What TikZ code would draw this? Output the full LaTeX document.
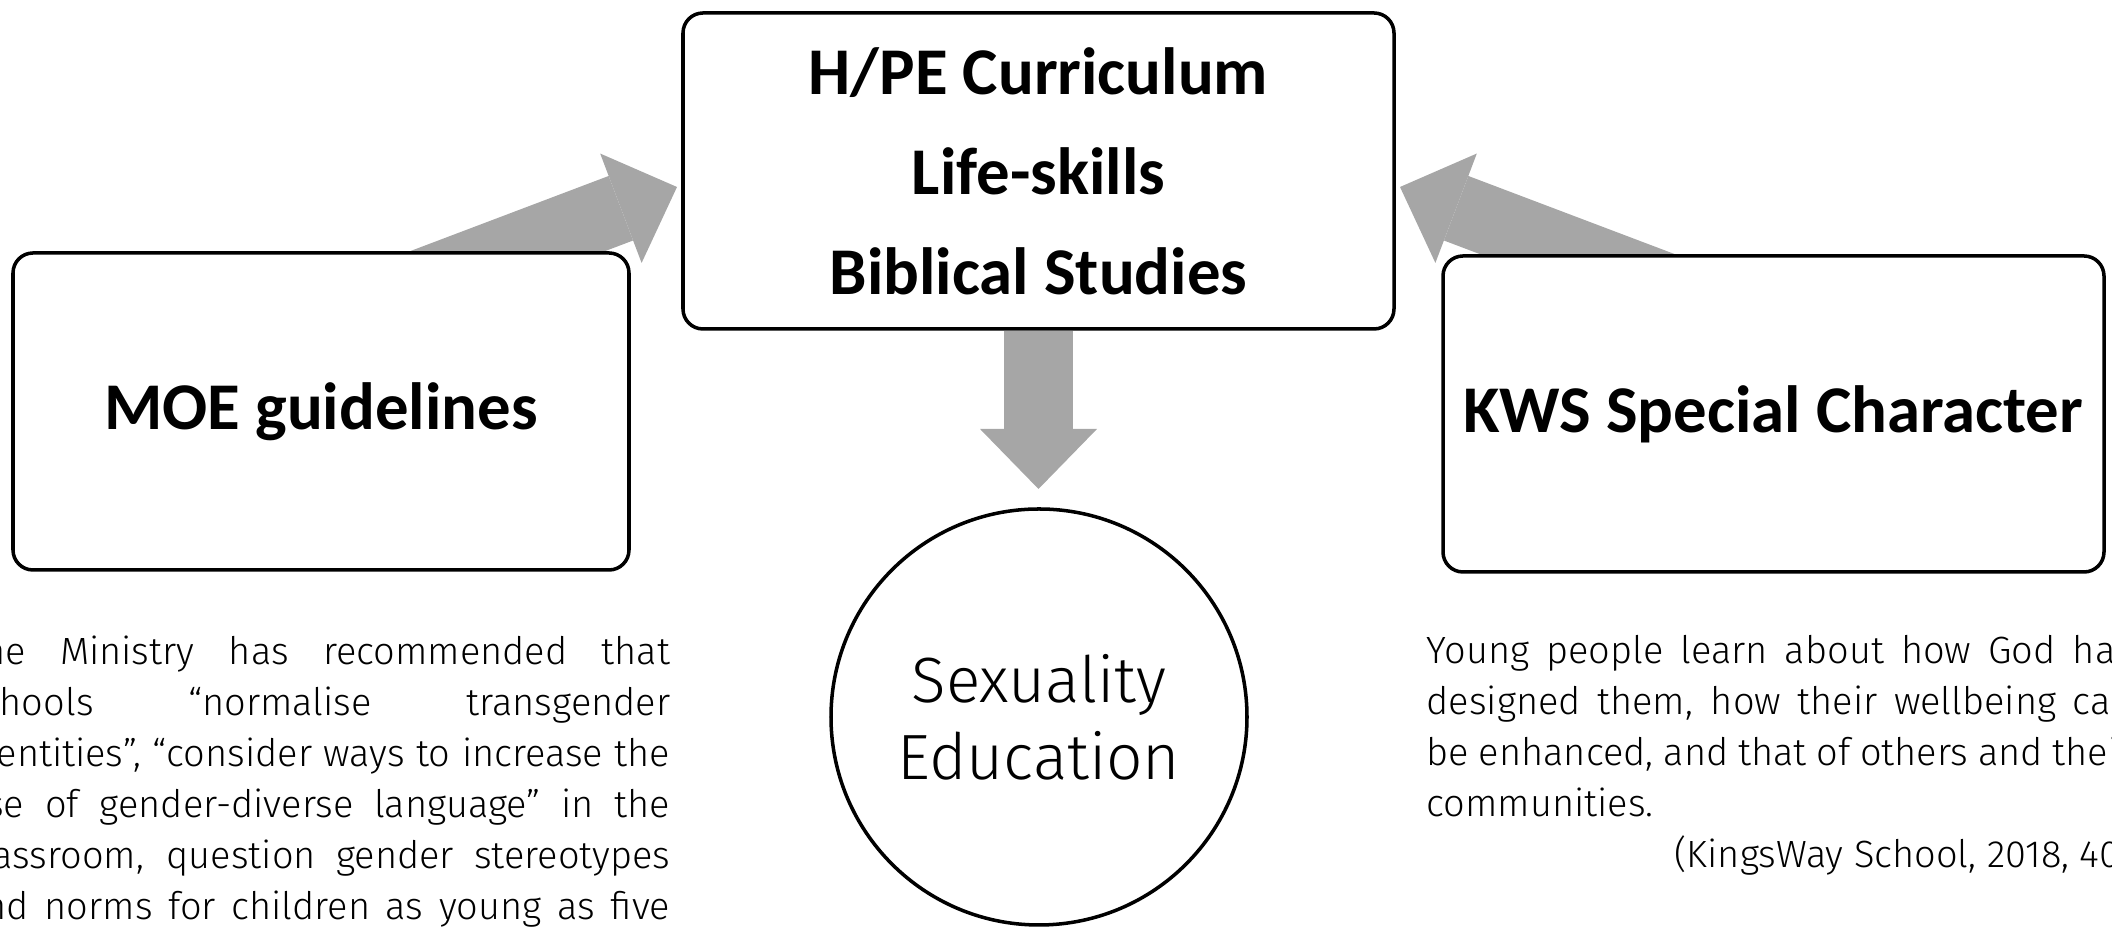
\documentclass[tikz,border=0pt]{standalone}
\usepackage{fontspec}
\setmainfont{Fira Sans Light}
\newfontfamily\headfont{Carlito}
\usetikzlibrary{arrows.meta,positioning,backgrounds}

\definecolor{arrowgrey}{HTML}{A6A6A6}

\begin{document}
\begin{tikzpicture}[
  box/.style={draw, line width=1pt, rounded corners=0.2cm, fill=white, align=center,
    font=\headfont\bfseries\fontsize{19}{28.45}\selectfont},
  fatarrow/.style={draw=arrowgrey, line width=0.69cm,
    -{Triangle[length=0.6cm, width=1.17cm, line width=0pt]}},
  quote/.style={inner sep=0pt, text width=7.06cm, align=justify,
    font=\fontsize{10.8}{14.5}\selectfont}
]

\useasboundingbox (0,0) rectangle (21.12,9.30);
\clip (0,0) rectangle (21.12,9.30);

% Boxes
\node[box, minimum width=7.11cm, minimum height=3.16cm] (hpe) at (10.385,7.59)
  {H/PE Curriculum\\Life-skills\\Biblical Studies};
\node[box, minimum width=6.16cm, minimum height=3.17cm] (moe) at (3.21,5.185) {MOE guidelines};
\node[box, minimum width=6.61cm, minimum height=3.16cm] (kws) at (17.735,5.16) {KWS Special Character};

% Outcome
\node[draw, line width=1pt, circle, minimum size=4.16cm, align=center,
  font=\fontsize{18.2}{22}\selectfont] (sexed) at (10.39,2.13) {Sexuality\\Education};

% Arrow ends
\coordinate (moe-tail) at (3.02,6.01);
\coordinate (hpe-left) at (6.77,7.43);
\coordinate (kws-tail) at (17.75,6.01);
\coordinate (hpe-right) at (14.00,7.43);
\coordinate (sexed-in) at (10.385,4.41);

\begin{scope}[on background layer]
  \draw[fatarrow] (moe-tail) -- (hpe-left);
  \draw[fatarrow] (kws-tail) -- (hpe-right);
  \draw[fatarrow] (hpe.south) -- (sexed-in);
\end{scope}

% Quotations under the side boxes
\node[quote, anchor=north east] (moe-text) at (6.71,2.95)
  {The Ministry has recommended that\linebreak
   schools “normalise transgender\linebreak
   identities”, “consider ways to increase the\linebreak
   use of gender-diverse language” in the\linebreak
   classroom, question gender stereotypes\linebreak
   and norms for children as young as five\linebreak};
\node[quote, anchor=north west] (kws-text) at (14.26,2.95)
  {Young people learn about how God has\linebreak
   designed them, how their wellbeing can\linebreak
   be enhanced, and that of others and their\linebreak
   communities.\\
   \mbox{}\hfill(KingsWay School, 2018, 40)};

\end{tikzpicture}
\end{document}
